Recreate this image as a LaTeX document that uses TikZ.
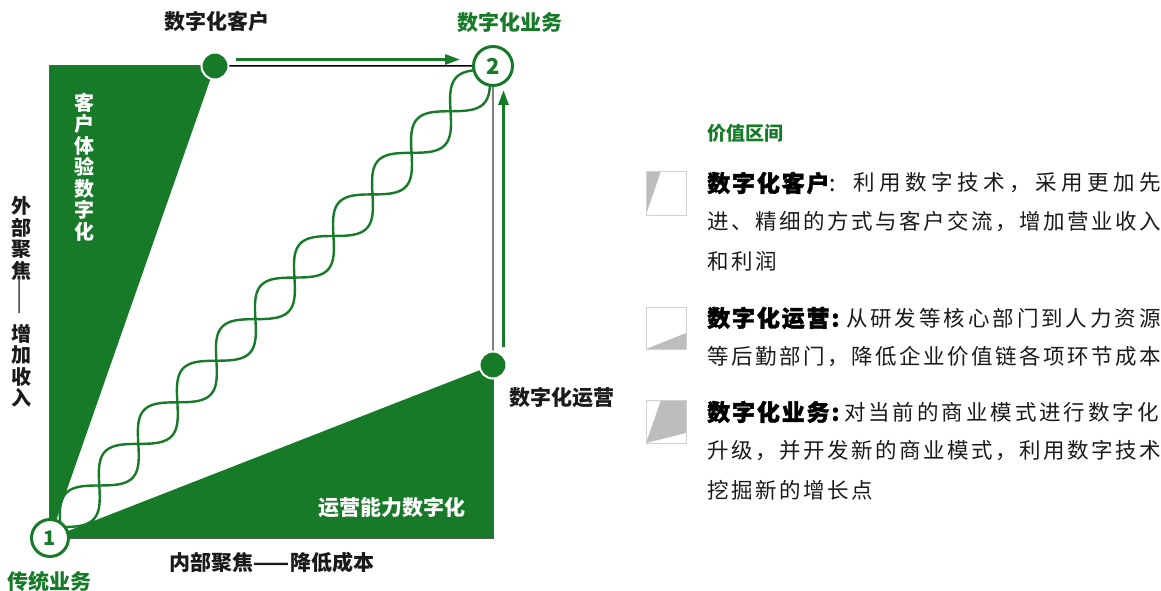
\documentclass[tikz,border=0pt]{standalone}
\usepackage{fontspec}
\usepackage{graphicx}
\setmainfont{Noto Sans CJK SC}
\newfontfamily\heavy[BoldFeatures={FakeBold=1.5},LetterSpace=8]{Noto Sans CJK SC}
\newfontfamily\bodyf[LetterSpace=11.6]{Noto Sans CJK SC}
\newfontfamily\bodyw[LetterSpace=21]{Noto Sans CJK SC}
\newfontfamily\bodym[LetterSpace=13.5]{Noto Sans CJK SC}
\usetikzlibrary{arrows.meta}
\definecolor{dg}{HTML}{177A28}
\definecolor{lg}{HTML}{BDBDBD}
\definecolor{bx}{HTML}{D0D0D0}
\definecolor{txt}{HTML}{1A1A1A}
\tikzset{
  lbl/.style={inner sep=0pt, text=txt, font=\fontsize{21}{21}\selectfont\bfseries},
  vlbl/.style={inner sep=0pt, align=center, text=txt, font=\fontsize{20}{21.5}\selectfont\bfseries},
  ring/.style={circle, draw=dg, line width=3pt, fill=white, inner sep=0pt, text=dg, font=\fontsize{20}{20}\selectfont\bfseries},
  dot/.style={circle, fill=dg, draw=white, line width=2pt, minimum size=27pt, inner sep=0pt},
  helix/.style={draw=dg, line width=2.4pt},
  arr/.style={draw=dg, line width=3pt, -{Triangle[length=15pt,width=10pt]}},
  hd/.style={inner sep=0pt, anchor=west, text=black, font=\heavy\bfseries\fontsize{23}{23}\selectfont},
  bd/.style={inner sep=0pt, anchor=west, text=txt, font=\bodyf\fontsize{21.5}{21.5}\selectfont},
  icon/.style={draw=bx, line width=1pt},
}
\begin{document}
\begin{tikzpicture}[x=1pt,y=-1pt]
\useasboundingbox (0,0) rectangle (1161,591);
% key points
\coordinate (tl) at (50,66);
\coordinate (br) at (493,538);
\coordinate (p1) at (50,538);
\coordinate (p2) at (493,66);
\coordinate (pt) at (215,66);
\coordinate (pr) at (493,365);
% square outline
\draw[draw=gray!70!black, line width=1.5pt] (tl) rectangle (br);
% wedges
\fill[dg] (tl) -- (pt) -- (p1) -- cycle;
\fill[dg] (p1) -- (pr) -- (br) -- cycle;
% edges of the square
\draw[black, line width=1pt] (pt) -- (p2);
\draw[gray, line width=1.8pt] (p2) -- (pr);
% double helix
\draw[helix] plot[domain=0:647, samples=400, variable=\s]
  ({50+0.6847*\s+13.86*sin(3.15789*(\s-642))}, {538-0.7295*\s+13.01*sin(3.15789*(\s-642))});
\draw[helix] plot[domain=0:647, samples=400, variable=\s]
  ({50+0.6847*\s-13.86*sin(3.15789*(\s-642))}, {538-0.7295*\s-13.01*sin(3.15789*(\s-642))});
% arrows
\coordinate (a1s) at (236,59.5);
\coordinate (a1e) at (460,59.5);
\coordinate (a2s) at (503.5,347);
\coordinate (a2e) at (503.5,90);
\draw[arr] (a1s) -- (a1e);
\draw[arr] (a2s) -- (a2e);
% dots and rings
\node[dot] (dt) at (pt) {};
\node[dot] (dr) at (pr) {};
\node[ring, minimum size=37pt] (n1) at (p1) {1};
\node[ring, minimum size=39pt, font=\fontsize{22}{22}\selectfont\bfseries] (n2) at (p2) {2};
% labels
\node[lbl] (lc) at (217,21) {数字化客户};
\node[lbl, text=dg] (lb) at (510,23) {数字化业务};
\node[vlbl, text=white] (lx) at (84,167) {客\\户\\体\\验\\数\\字\\化};
\node[vlbl] (lv1) at (22,238.5) {外\\部\\聚\\焦};
\node[inner sep=0pt, text=txt, font=\fontsize{21}{21}\selectfont] (lvd) at (22,297) {\rotatebox{90}{——}};
\node[vlbl] (lv2) at (22,366) {增\\加\\收\\入};
\node[lbl] (lo) at (562,398) {数字化运营};
\node[lbl, text=white] (lw) at (392,508) {运营能力数字化};
\node[lbl] (lh) at (272,562) {内部聚焦——降低成本};
\node[lbl, text=dg] (lt) at (50,581) {传统业务};
% legend
\node[lbl, anchor=west, text=dg, font=\fontsize{19}{19}\selectfont\bfseries] (lgt) at (707,133) {价值区间};
\fill[lg] (646,171) -- (661,171) -- (646,215) -- cycle;
\draw[icon] (646,171) rectangle (686,215);
\fill[lg] (646,349) -- (686,333) -- (686,349) -- cycle;
\draw[icon] (646,307) rectangle (686,349);
\fill[lg] (661,400) -- (686,400) -- (686,433) -- (646,443) -- cycle;
\draw[icon] (646,400) rectangle (686,443);
\node[hd] (h1) at (707,183) {数字化客户{\mdseries\bodyf :}};
\node[bd, font=\bodyw\fontsize{21.5}{21.5}\selectfont] (b11) at (853,183) {利用数字技术，采用更加先};
\node[bd] (b12) at (707,222) {进、精细的方式与客户交流，增加营业收入};
\node[bd] (b13) at (707,261) {和利润};
\node[hd] (h2) at (707,318) {数字化运营:};
\node[bd, font=\bodym\fontsize{21.5}{21.5}\selectfont] (b21) at (846,318) {从研发等核心部门到人力资源};
\node[bd] (b22) at (707,357) {等后勤部门，降低企业价值链各项环节成本};
\node[hd] (h3) at (707,412) {数字化业务:};
\node[bd, font=\bodym\fontsize{21.5}{21.5}\selectfont] (b31) at (844,412) {对当前的商业模式进行数字化};
\node[bd] (b32) at (707,451) {升级，并开发新的商业模式，利用数字技术};
\node[bd] (b33) at (707,490) {挖掘新的增长点};
\end{tikzpicture}
\end{document}
